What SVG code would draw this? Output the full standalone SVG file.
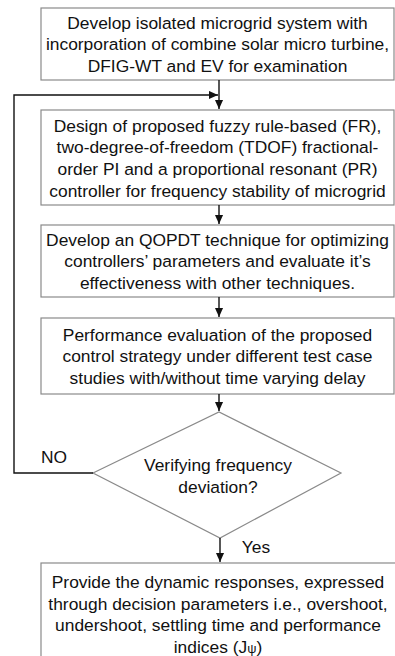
<svg xmlns="http://www.w3.org/2000/svg" width="395" height="656" viewBox="0 0 395 656">
<defs>
<style>
.box{fill:#fff;stroke:#8a8a8a;stroke-width:1.2}
.t{font-family:"Liberation Sans",Arial,sans-serif;font-size:17.4px;fill:#111;text-anchor:middle}
.c{fill:none;stroke:#111;stroke-width:1.4}
</style>
<marker id="ah" viewBox="0 0 10 10" refX="10" refY="5" markerWidth="9" markerHeight="9" markerUnits="userSpaceOnUse" orient="auto">
<path d="M0,0.5 L10,5 L0,9.5 z" fill="#111"/>
</marker>
</defs>
<rect width="395" height="656" fill="#fff"/>
<g id="n1">
<rect class="box" x="41" y="8" width="353" height="72"/>
<text class="t" x="217.5" y="28.5">Develop isolated microgrid system with</text>
<text class="t" x="217.5" y="50.2">incorporation of combine solar micro turbine,</text>
<text class="t" x="217.5" y="71.9">DFIG-WT and EV for examination</text>
</g>
<g id="n2">
<rect class="box" x="41" y="110" width="353" height="95"/>
<text class="t" x="217.5" y="131.5">Design of proposed fuzzy rule-based (FR),</text>
<text class="t" x="217.5" y="153.2">two-degree-of-freedom (TDOF) fractional-</text>
<text class="t" x="217.5" y="174.9">order PI and a proportional resonant (PR)</text>
<text class="t" x="217.5" y="196.6">controller for frequency stability of microgrid</text>
</g>
<g id="n3">
<rect class="box" x="41" y="225" width="353" height="72"/>
<text class="t" x="217.5" y="245.5">Develop an QOPDT technique for optimizing</text>
<text class="t" x="217.5" y="267.2">controllers’ parameters and evaluate it’s</text>
<text class="t" x="217.5" y="288.9">effectiveness with other techniques.</text>
</g>
<g id="n4">
<rect class="box" x="41" y="318" width="353" height="76"/>
<text class="t" x="217.5" y="340.5">Performance evaluation of the proposed</text>
<text class="t" x="217.5" y="362.2">control strategy under different test case</text>
<text class="t" x="217.5" y="383.9">studies with/without time varying delay</text>
</g>
<g id="n5">
<path class="box" d="M93,473 L219,412 L341,473 L220,538 Z"/>
<text class="t" x="218" y="471">Verifying frequency</text>
<text class="t" x="218" y="492.7">deviation?</text>
</g>
<g id="n6">
<rect class="box" x="41" y="563" width="370" height="110"/>
<text class="t" x="218" y="588">Provide the dynamic responses, expressed</text>
<text class="t" x="218" y="609.7">through decision parameters i.e., overshoot,</text>
<text class="t" x="218" y="631.4">undershoot, settling time and performance</text>
<text class="t" x="218" y="653">indices (J<tspan font-size="13">ψ</tspan>)</text>
</g>
<g id="connectors">
<line class="c" x1="219" y1="80" x2="219" y2="109" marker-end="url(#ah)"/>
<polyline class="c" points="93,473 14,473 14,95 218,95" marker-end="url(#ah)"/>
<line class="c" x1="219" y1="205" x2="219" y2="224" marker-end="url(#ah)"/>
<line class="c" x1="219" y1="297" x2="219" y2="317" marker-end="url(#ah)"/>
<line class="c" x1="219" y1="394" x2="219" y2="411" marker-end="url(#ah)"/>
<line class="c" x1="220" y1="538" x2="220" y2="562" marker-end="url(#ah)"/>
<text class="t" x="54" y="463">NO</text>
<text class="t" x="256" y="553">Yes</text>
</g>
</svg>
